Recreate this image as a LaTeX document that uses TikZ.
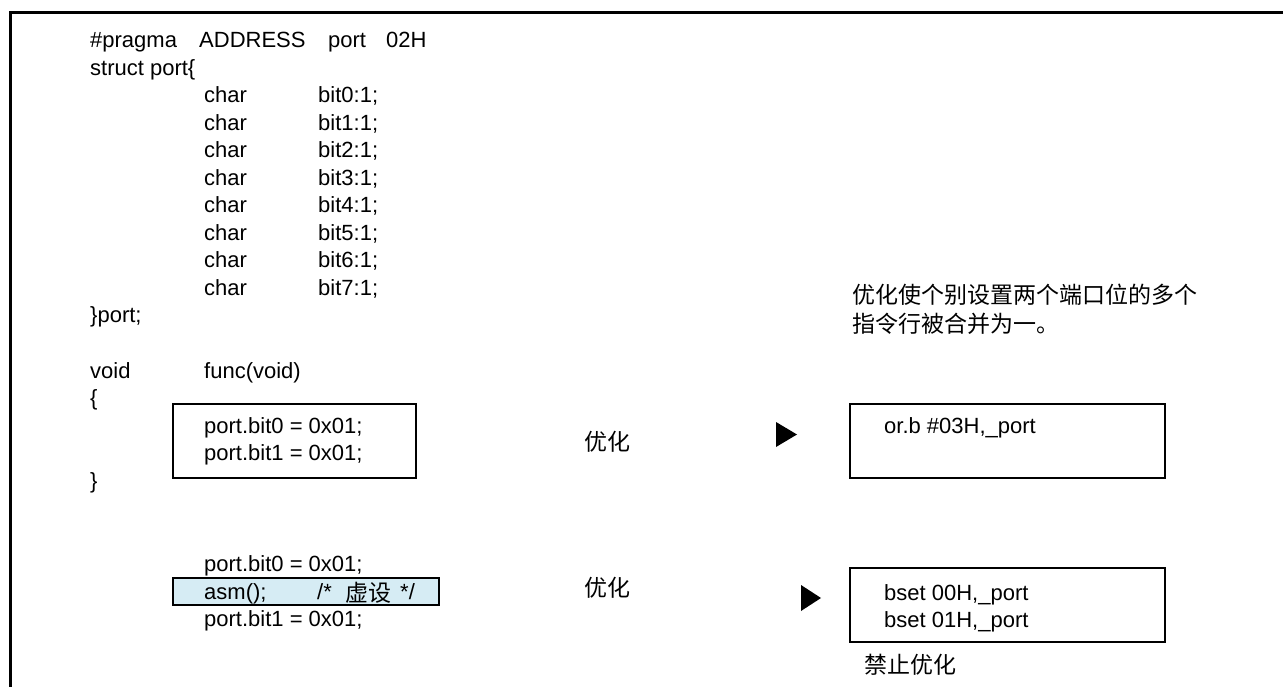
\documentclass[tikz,border=0pt]{standalone}
\usepackage{fontspec}
\setmainfont{Liberation Sans}
\newfontfamily\cjk{Noto Sans CJK SC}
\definecolor{asmblue}{RGB}{214,236,244}
\tikzset{
  code/.style={anchor=base west, inner sep=0pt, font=\fontsize{22}{26}\selectfont},
  zh/.style={anchor=base west, inner sep=0pt, font=\cjk\fontsize{23}{28}\selectfont},
  box/.style={draw, line width=1.5pt, anchor=north west, inner sep=0pt},
  frameline/.style={line width=3pt},
  tri/.style={fill=black},
}
\begin{document}
\begin{tikzpicture}[x=1pt,y=-1pt]
\useasboundingbox (0,0) rectangle (1283,687);
% frame
\draw[frameline] (1283,12.5) -- (10.5,12.5) -- (10.5,687);
% boxes (drawn first)
\node[box, minimum width=243pt, minimum height=74pt] (box1) at (172,403) {};
\node[box, fill=asmblue, minimum width=266pt, minimum height=27pt] (asmbox) at (172,577) {};
\node[box, minimum width=315pt, minimum height=74pt] (rbox1) at (849,403) {};
\node[box, minimum width=315pt, minimum height=74pt] (rbox2) at (849,567) {};
% header
\node[code] (pragma) at (90,48) {\#pragma};
\node[code] (addr) at (199,48) {ADDRESS};
\node[code] (pport) at (328,48) {port};
\node[code] (addrv) at (386,48) {02H};
\node[code] (struct) at (90,75.5) {struct port\{};
\foreach \i/\y in {0/103,1/130.5,2/158,3/185.5,4/213,5/240.5,6/268,7/295.5}{
  \node[code] (char\i) at (204,\y) {char};
  \node[code] (bit\i) at (318,\y) {bit\i:1;};
}
\node[code] (endport) at (90,323) {\}port;};
\node[code] (void) at (90,378) {void};
\node[code] (func) at (204,378) {func(void)};
\node[code] (lbrace) at (90,405.5) {\{};
\node[code] (a0) at (204,433) {port.bit0 = 0x01;};
\node[code] (a1) at (204,460.5) {port.bit1 = 0x01;};
\node[code] (rbrace) at (90,488) {\}};
% lower code
\node[code] (b0) at (204,571) {port.bit0 = 0x01;};
\node[code] (asm) at (204,599) {asm();};
\node[code] (cmt1) at (317,599) {/*};
\node[zh] (xu) at (345,601) {虚设};
\node[code] (cmt2) at (400,599) {*/};
\node[code] (b1) at (204,626) {port.bit1 = 0x01;};
% right side
\node[zh] (note1) at (852,304) {优化使个别设置两个端口位的多个};
\node[zh] (note2) at (852,332) {指令行被合并为一。};
\node[zh] (opt1) at (584,450) {优化};
\fill[tri] (776,422) -- (797,434.5) -- (776,447) -- cycle;
\node[code] (orb) at (884,433) {or.b \#03H,\_port};
\node[zh] (opt2) at (584,596) {优化};
\fill[tri] (801,585) -- (821,598) -- (801,611) -- cycle;
\node[code] (bs0) at (884,600) {bset 00H,\_port};
\node[code] (bs1) at (884,627) {bset 01H,\_port};
\node[zh] (forbid) at (864,673) {禁止优化};
\end{tikzpicture}
\end{document}
